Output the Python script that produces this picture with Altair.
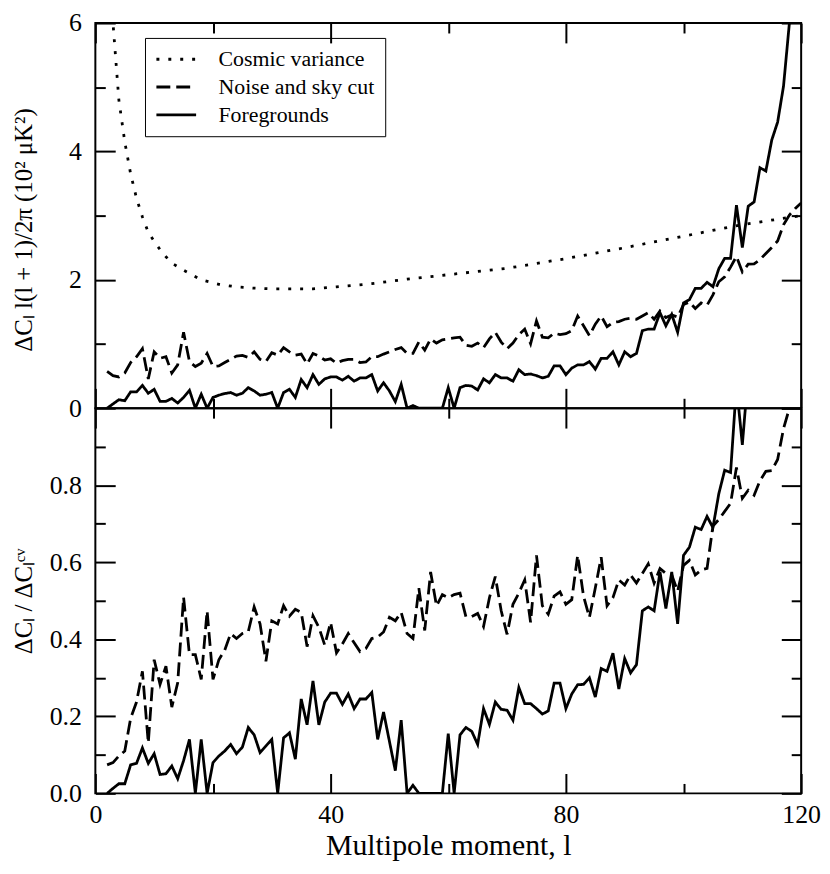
import altair as alt
import pandas as pd

# ---------------- data ----------------
L = list(range(2, 121))

# top panel: Delta C_l l(l+1)/2pi  (10^2 muK^2)
FG_TOP = [
    0, 0.066, 0.132, 0.117, 0.254, 0.254, 0.355, 0.233, 0.294, 0.107,
    0.107, 0.152, 0.081, 0.168, 0.279, 0, 0.218, 0, 0.168, 0.203,
    0.228, 0.244, 0.203, 0.233, 0.32, 0.269, 0.203, 0.218, 0.244, 0,
    0.244, 0.294, 0.168, 0.447, 0.32, 0.523, 0.371, 0.457, 0.487, 0.487,
    0.437, 0.497, 0.421, 0.472, 0.472, 0.523, 0.269, 0.396, 0.269, 0.102,
    0.371, 0, 0.041, 0, 0, 0, 0, 0, 0.32, 0,
    0.32, 0.355, 0.345, 0.284, 0.457, 0.396, 0.523, 0.472, 0.472, 0.421,
    0.599, 0.523, 0.533, 0.508, 0.472, 0.497, 0.66, 0.66, 0.523, 0.624,
    0.675, 0.675, 0.726, 0.609, 0.777, 0.777, 0.878, 0.675, 0.878, 0.802,
    0.853, 1.208, 1.233, 1.233, 1.487, 1.284, 1.462, 1.183, 1.64, 1.69,
    1.868, 1.868, 1.96, 1.893, 2.173, 2.335, 2.335, 3.162, 2.502, 3.147,
    3.213, 3.746, 3.695, 4.177, 4.457, 5.015, 6.0, 7.2, 8.4,
]
NS_TOP = [
    0.574, 0.508, 0.487, 0.548, 0.711, 0.802, 0.929, 0.457, 0.878, 0.777,
    0.802, 0.548, 0.675, 1.183, 0.726, 0.65, 0.7, 0.853, 0.65, 0.66,
    0.711, 0.761, 0.812, 0.822, 0.792, 0.878, 0.761, 0.726, 0.863, 0.827,
    0.944, 0.878, 0.827, 0.843, 0.69, 0.853, 0.812, 0.751, 0.77, 0.7,
    0.741, 0.761, 0.761, 0.711, 0.72, 0.802, 0.802, 0.843, 0.878, 0.914,
    0.944, 0.853, 0.853, 1.03, 0.904, 1.08, 1.015, 1.066, 1.08, 1.096,
    1.107, 0.98, 0.964, 1.015, 0.944, 1.08, 1.183, 1.03, 0.929, 1.015,
    1.147, 1.233, 1.005, 1.36, 1.107, 1.096, 1.168, 1.147, 1.16, 1.208,
    1.436, 1.284, 1.132, 1.31, 1.436, 1.269, 1.335, 1.35, 1.386, 1.401,
    1.386, 1.436, 1.487, 1.386, 1.513, 1.411, 1.452, 1.42, 1.614, 1.655,
    1.553, 1.64, 1.604, 1.766, 1.97, 2.046, 2.198, 2.365, 2.122, 2.244,
    2.248, 2.315, 2.411, 2.503, 2.604, 2.858, 3.01, 3.11, 3.198,
]
CV_L = [2, 3, 4, 5, 6, 7, 8, 9, 10, 11, 12, 13, 15, 18, 21, 24, 27, 30, 33,
        37, 41, 47, 53, 60, 70, 80, 90, 100, 110, 120]
CV_TOP = [7.6, 6.0, 4.8, 4.15, 3.65, 3.27, 2.98, 2.74, 2.6, 2.47, 2.36, 2.26,
          2.15, 2.0, 1.93, 1.89, 1.87, 1.86, 1.86, 1.86, 1.89, 1.94, 2.01,
          2.08, 2.18, 2.33, 2.5, 2.68, 2.86, 3.0]

# bottom panel: Delta C_l / Delta C_l^cv
FG_BOT = [
    0, 0.013, 0.025, 0.025, 0.074, 0.078, 0.118, 0.078, 0.103, 0.049,
    0.051, 0.071, 0.038, 0.085, 0.14, 0, 0.14, 0, 0.08, 0.097,
    0.11, 0.127, 0.103, 0.12, 0.171, 0.152, 0.106, 0.123, 0.14, 0,
    0.144, 0.157, 0.089, 0.245, 0.178, 0.292, 0.178, 0.237, 0.26, 0.26,
    0.231, 0.258, 0.22, 0.245, 0.245, 0.262, 0.14, 0.211, 0.135, 0.059,
    0.19, 0, 0.021, 0, 0, 0, 0, 0, 0.155, 0,
    0.152, 0.171, 0.161, 0.127, 0.22, 0.179, 0.237, 0.218, 0.216, 0.19,
    0.275, 0.233, 0.233, 0.22, 0.206, 0.214, 0.286, 0.286, 0.22, 0.258,
    0.282, 0.283, 0.3, 0.25, 0.324, 0.317, 0.364, 0.271, 0.35, 0.313,
    0.334, 0.474, 0.484, 0.474, 0.575, 0.48, 0.575, 0.44, 0.618, 0.639,
    0.691, 0.685, 0.719, 0.69, 0.778, 0.839, 0.833, 1.06, 0.905, 1.09,
    1.11, 1.29, 1.27, 1.42, 1.5, 1.68, 1.99, 2.4, 2.8,
]
NS_BOT = [
    0.074, 0.08, 0.097, 0.11, 0.195, 0.237, 0.317, 0.131, 0.347, 0.283,
    0.33, 0.224, 0.287, 0.509, 0.36, 0.36, 0.296, 0.474, 0.296, 0.347,
    0.372, 0.415, 0.402, 0.415, 0.42, 0.484, 0.44, 0.343, 0.448, 0.44,
    0.487, 0.46, 0.478, 0.47, 0.381, 0.461, 0.431, 0.385, 0.444, 0.365,
    0.388, 0.415, 0.391, 0.368, 0.376, 0.402, 0.406, 0.419, 0.457, 0.448,
    0.47, 0.415, 0.402, 0.533, 0.423, 0.575, 0.487, 0.516, 0.508, 0.516,
    0.52, 0.459, 0.459, 0.467, 0.433, 0.508, 0.563, 0.474, 0.413, 0.491,
    0.52, 0.554, 0.444, 0.618, 0.487, 0.465, 0.512, 0.523, 0.491, 0.503,
    0.618, 0.512, 0.457, 0.533, 0.613, 0.487, 0.508, 0.554, 0.541, 0.567,
    0.546, 0.571, 0.596, 0.546, 0.584, 0.571, 0.567, 0.525, 0.592, 0.605,
    0.567, 0.58, 0.584, 0.694, 0.711, 0.732, 0.753, 0.846, 0.766, 0.787,
    0.774, 0.812, 0.836, 0.838, 0.867, 0.947, 1.0, 1.05, 1.1,
]

SERIES = ["Cosmic variance", "Noise and sky cut", "Foregrounds"]
X_MAJOR = [0, 40, 80, 120]
X_MINOR = [20, 60, 100]
YT_MAJOR = [0, 2, 4, 6]
YT_MINOR = [1, 3, 5]
YB_LABELLED = [0, 0.2, 0.4, 0.6, 0.8]
YB_MAJOR = [0, 0.2, 0.4, 0.6, 0.8, 1.0]
YB_MINOR = [0.1, 0.3, 0.5, 0.7, 0.9]

X_TITLE = "Multipole moment, l"
Y_TOP_TITLE = "ΔCₗ l(l + 1)/2π (10² μK²)"
Y_BOT_TITLE = "ΔCₗ / ΔCₗᶜᵛ"

# ---------------- styling ----------------
FONT = "Liberation Serif"
W = 711
H = 388
MAJ, MIN = 20, 10
DASHES = [[3, 9], [14, 6], [1, 0]]
LINE_W = 2.8
EXT = 77
TICK_COLOR = "black"

top_df = pd.concat([
    pd.DataFrame({"l": CV_L, "v": CV_TOP, "series": SERIES[0]}),
    pd.DataFrame({"l": L, "v": NS_TOP, "series": SERIES[1]}),
    pd.DataFrame({"l": L, "v": FG_TOP, "series": SERIES[2]}),
], ignore_index=True)

bot_df = pd.concat([
    pd.DataFrame({"l": L, "v": NS_BOT, "series": SERIES[1]}),
    pd.DataFrame({"l": L, "v": FG_BOT, "series": SERIES[2]}),
], ignore_index=True)


def tick_axis(orient, values, size, **extra):
    params = dict(orient=orient, values=values, tickSize=size, offset=-size,
                  domain=False, grid=False, ticks=True, tickColor=TICK_COLOR,
                  tickWidth=2, tickOpacity=1, labels=False, title=None,
                  zindex=1)
    params.update(extra)
    return alt.Axis(**params)


LBL = dict(labels=True, labelFont=FONT, labelFontSize=26, labelColor="black",
           labelFlush=False, labelOverlap=False)
YTITLE = dict(titleFont=FONT, titleFontSize=25, titleFontWeight="normal",
              titleColor="black", titlePadding=2, minExtent=EXT, maxExtent=EXT)

xs = alt.Scale(domain=[0, 120], nice=False, zero=False)
yts = alt.Scale(domain=[0, 6], nice=False, zero=False)
ybs = alt.Scale(domain=[0, 1], nice=False, zero=False)


def ghost(df, yscale, ax_x, ax_y):
    return alt.Chart(df).mark_line(clip=True, strokeOpacity=0).encode(
        x=alt.X("l:Q", scale=xs, axis=ax_x),
        y=alt.Y("v:Q", scale=yscale, axis=ax_y),
        detail="series:N",
    )


# ---------------- top panel ----------------
top_lines = alt.Chart(top_df).mark_line(
    clip=True, color="black", strokeWidth=LINE_W
).encode(
    x=alt.X("l:Q", scale=xs, axis=tick_axis("bottom", X_MAJOR, MAJ)),
    y=alt.Y("v:Q", scale=yts,
            axis=tick_axis("left", YT_MAJOR, MAJ, labelPadding=14, format="d",
                           title=Y_TOP_TITLE, titleY=H / 2 + 14,
                           **LBL, **YTITLE)),
    strokeDash=alt.StrokeDash(
        "series:N",
        scale=alt.Scale(domain=SERIES, range=DASHES),
        legend=alt.Legend(
            title=None, orient="none", legendX=50, legendY=15,
            direction="vertical", symbolType="M-1,0H3", symbolSize=400,
            symbolStrokeWidth=3, symbolStrokeColor="black",
            labelFont=FONT, labelFontSize=22, labelColor="black",
            labelOffset=41, rowPadding=5, padding=10, labelLimit=400,
            strokeColor="black", fillColor="white", cornerRadius=0,
        ),
    ),
)

top = alt.layer(
    top_lines,
    ghost(top_df, yts, tick_axis("bottom", X_MINOR, MIN), tick_axis("left", YT_MINOR, MIN)),
    ghost(top_df, yts, tick_axis("top", X_MAJOR, MAJ), tick_axis("right", YT_MAJOR, MAJ)),
    ghost(top_df, yts, tick_axis("top", X_MINOR, MIN), tick_axis("right", YT_MINOR, MIN)),
).resolve_axis(x="independent", y="independent").properties(width=W, height=H)

# ---------------- bottom panel ----------------
bot_lines = alt.Chart(bot_df).mark_line(
    clip=True, color="black", strokeWidth=LINE_W
).encode(
    x=alt.X("l:Q", scale=xs,
            axis=tick_axis("bottom", X_MAJOR, MAJ, labelPadding=8, format="d",
                           title=X_TITLE, titleFont=FONT, titleFontSize=30,
                           titleFontWeight="normal", titleColor="black",
                           titlePadding=4, **LBL)),
    y=alt.Y("v:Q", scale=ybs,
            axis=tick_axis("left", YB_LABELLED, MAJ, labelPadding=14,
                           format=".1f", title=Y_BOT_TITLE, **LBL, **YTITLE)),
    strokeDash=alt.StrokeDash(
        "series:N",
        scale=alt.Scale(domain=SERIES[1:], range=DASHES[1:]),
        legend=None,
    ),
)

bottom = alt.layer(
    bot_lines,
    ghost(bot_df, ybs, tick_axis("bottom", X_MINOR, MIN), tick_axis("left", YB_MINOR, MIN)),
    ghost(bot_df, ybs, tick_axis("top", X_MAJOR, MAJ), tick_axis("right", YB_MAJOR, MAJ)),
    ghost(bot_df, ybs, tick_axis("top", X_MINOR, MIN), tick_axis("right", YB_MINOR, MIN)),
).resolve_axis(x="independent", y="independent").properties(width=W, height=H)

chart = alt.vconcat(top, bottom, spacing=0, bounds="flush").resolve_scale(
    strokeDash="independent"
).properties(
    padding={"left": 3, "top": -2, "right": 0, "bottom": 0},
    background="white",
).configure_view(stroke="black", strokeWidth=2)

chart.save("out.html", embed_options={"renderer": "svg", "actions": False})
